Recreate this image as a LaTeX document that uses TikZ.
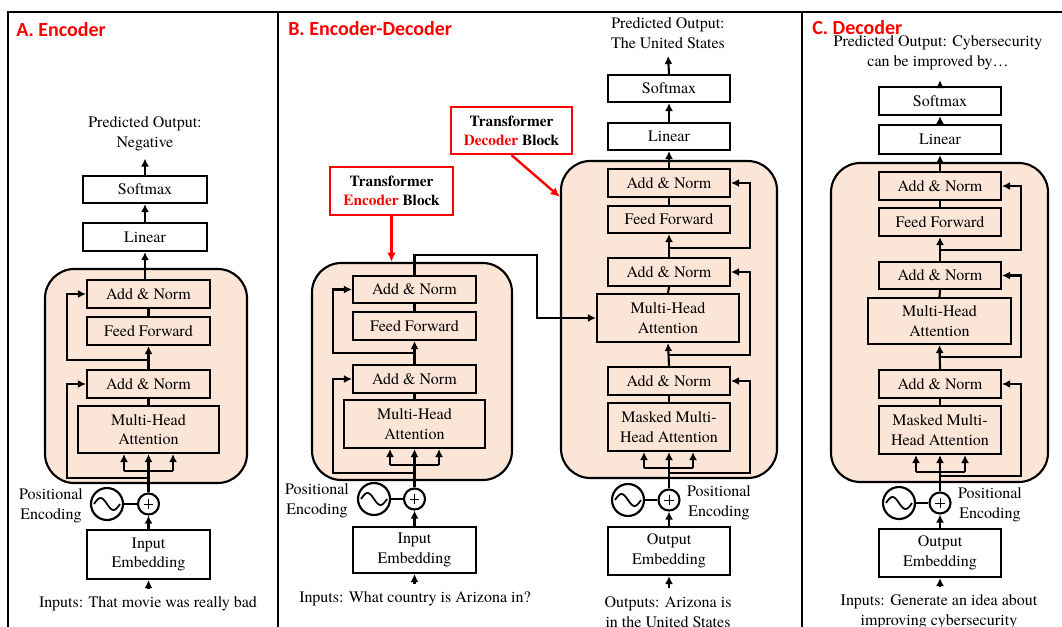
\documentclass[tikz,border=0pt]{standalone}
\usepackage{fontspec}
\newfontfamily\serif{texgyretermes-regular.otf}[BoldFont=texgyretermes-bold.otf]
\newfontfamily\titlefont{Carlito}
\usetikzlibrary{arrows.meta}
\definecolor{peach}{HTML}{FBE5D6}
\definecolor{tred}{HTML}{FF0000}
\newcommand\pbox[7]{\node[#2, minimum width={(#5-#3)*0.75pt}, minimum height={(#6-#4)*0.75pt}] (#1) at ({(#3+#5)/2},{(#4+#6)/2}) {#7};}
\newcommand\sinewave[2]{\draw[line width=1.3pt] plot[domain=-1:1,samples=40,smooth] ({#1+13*\x},{#2+6*sin(\x*180)});}
\newcommand\plussign[1]{\draw[line width=0.6pt] ([xshift=-3.5pt]#1.center) -- ([xshift=3.5pt]#1.center); \draw[line width=0.6pt] ([yshift=-3.5pt]#1.center) -- ([yshift=3.5pt]#1.center);}
\begin{document}
\begin{tikzpicture}[x=0.75pt,y=-0.75pt,
  box/.style={draw, line width=1.6pt, fill=peach, inner sep=0pt, align=center, font=\serif\fontsize{12}{14.6}\selectfont},
  wbox/.style={box, fill=white},
  blk/.style={draw, line width=1.6pt, fill=peach, rounded corners=22pt, inner sep=0pt},
  lbl/.style={align=center, font=\serif\fontsize{12}{14.6}\selectfont, inner sep=0pt},
  outtxt/.style={lbl, inner xsep=0pt, inner ysep=5.5pt},
  intxt/.style={lbl, inner xsep=0pt, inner ysep=6pt},
  ln/.style={line width=1.6pt},
  arr/.style={ln, -{Latex[length=6pt,width=6pt]}},
  redarr/.style={line width=1.8pt, draw=tred, -{Latex[length=7pt,width=6.5pt]}},
  redbox/.style={draw=tred, line width=1.6pt, fill=white, align=center, inner sep=0pt, font=\serif\bfseries\fontsize{11.5}{14.5}\selectfont},
  ttl/.style={anchor=base west, text=tred, font=\titlefont\bfseries\fontsize{15}{18}\selectfont, inner sep=0pt},
  sinc/.style={circle, draw, line width=1.6pt, minimum size=24pt, inner sep=0pt},
  plusc/.style={circle, draw, line width=1.6pt, minimum size=15.75pt, inner sep=0pt}
]
\useasboundingbox (0,0) rectangle (1062,627);
% frames
\coordinate (F_bl) at (8,627); \coordinate (F_tr) at (1062,12);
\draw[line width=1.6pt] (F_bl) |- (F_tr);
\coordinate (F_a) at (278,12); \coordinate (F_ab) at (278,627);
\coordinate (F_b) at (802,12); \coordinate (F_bb) at (802,627);
\draw[line width=1.6pt] (F_a) -- (F_ab);
\draw[line width=1.6pt] (F_b) -- (F_bb);

% ================= Panel A =================
\node[ttl] (A_t) at (16,37) {A. Encoder};
\pbox{A_blk}{blk}{45}{269}{247}{483}{}
\pbox{A_sm}{wbox}{83}{176}{207}{203}{Softmax}
\pbox{A_lin}{wbox}{83}{223}{207}{251}{Linear}
\pbox{A_an1}{box}{87}{280}{210}{308}{Add \& Norm}
\pbox{A_ff}{box}{87}{317}{210}{345}{Feed Forward}
\pbox{A_an2}{box}{87}{370}{210}{398}{Add \& Norm}
\pbox{A_mha}{box}{78}{406}{219}{453}{Multi-Head\\Attention}
\pbox{A_emb}{wbox}{87}{530}{210}{579}{Input\\Embedding}
\node[sinc] (A_sin) at (107,504) {};
\sinewave{107}{504}
\node[plusc] (A_plus) at (148.5,504) {};
\plussign{A_plus}
\node[outtxt] (A_out) at (145,134) {Predicted Output:\\Negative};
\node[intxt] (A_in) at (148,604) {Inputs: That movie was really bad};
\node[lbl] (A_pos) at (51,506) {Positional\\Encoding};
\draw[arr] (A_emb.south |- A_in.north) -- (A_emb.south);
\draw[arr] (A_emb.north) -- (A_plus.south);
\draw[ln] (A_sin.east) -- (A_plus.west);
\draw[arr] (A_plus.north) -- (A_mha.south);
\coordinate (A_bl) at (124,471); \coordinate (A_br) at (173,471);
\draw[ln] (A_bl) -- (A_br);
\draw[arr] (A_bl) -- (A_bl |- A_mha.south);
\draw[arr] (A_br) -- (A_br |- A_mha.south);
\draw[ln] (A_mha.north) -- (A_an2.south);
\draw[arr] (A_an2.north) -- (A_ff.south);
\draw[ln] (A_ff.north) -- (A_an1.south);
\draw[arr] (A_lin.south |- A_an1.north) -- (A_lin.south);
\draw[arr] (A_lin.north) -- (A_sm.south);
\draw[arr] (A_sm.north) -- (A_out.south);
\coordinate (A_r1) at (148.5,478); \coordinate (A_r1l) at (67,478);
\draw[arr] (A_r1) -- (A_r1l) |- (A_an2.west);
\coordinate (A_r2) at (148.5,360); \coordinate (A_r2l) at (67,360);
\draw[arr] (A_r2) -- (A_r2l) |- (A_an1.west);

% ================= Panel B : encoder =================
\node[ttl] (B_t) at (288,36) {B. Encoder-Decoder};
\pbox{B_blk}{blk}{312}{263}{512}{480}{}
\pbox{B_an1}{box}{353}{276}{476}{303}{Add \& Norm}
\pbox{B_ff}{box}{353}{312}{476}{340}{Feed Forward}
\pbox{B_an2}{box}{353}{365}{476}{393}{Add \& Norm}
\pbox{B_mha}{box}{344}{400}{485}{448}{Multi-Head\\Attention}
\pbox{B_emb}{wbox}{353}{527}{476}{573}{Input\\Embedding}
\node[sinc] (B_sin) at (374,499) {};
\sinewave{374}{499}
\node[plusc] (B_plus) at (414.5,499) {};
\plussign{B_plus}
\node[intxt] (B_in) at (415,599) {Inputs: What country is Arizona in?};
\node[lbl] (B_pos) at (317,501) {Positional\\Encoding};
\draw[arr] (B_emb.south |- B_in.north) -- (B_emb.south);
\draw[arr] (B_emb.north) -- (B_plus.south);
\draw[ln] (B_sin.east) -- (B_plus.west);
\draw[arr] (B_plus.north) -- (B_mha.south);
\coordinate (B_bl) at (390,465); \coordinate (B_br) at (439,465);
\draw[ln] (B_bl) -- (B_br);
\draw[arr] (B_bl) -- (B_bl |- B_mha.south);
\draw[arr] (B_br) -- (B_br |- B_mha.south);
\draw[ln] (B_mha.north) -- (B_an2.south);
\draw[arr] (B_an2.north) -- (B_ff.south);
\draw[ln] (B_ff.north) -- (B_an1.south);
\coordinate (B_r1) at (414.5,473); \coordinate (B_r1l) at (333,473);
\draw[arr] (B_r1) -- (B_r1l) |- (B_an2.west);
\coordinate (B_r2) at (414.5,353); \coordinate (B_r2l) at (333,353);
\draw[arr] (B_r2) -- (B_r2l) |- (B_an1.west);
\pbox{B_encl}{redbox}{330}{167}{453}{215}{Transformer\\\textcolor{tred}{Encoder} Block}
\draw[redarr] (B_encl.south) -- (B_encl.south |- B_blk.north);

% ================= Panel B : decoder =================
\pbox{D_blk}{blk}{561}{161}{777}{478}{}
\pbox{D_sm}{wbox}{608}{75}{730}{102}{Softmax}
\pbox{D_lin}{wbox}{608}{123}{730}{150}{Linear}
\pbox{D_an1}{box}{608}{169}{730}{197}{Add \& Norm}
\pbox{D_ff}{box}{608}{206}{730}{233}{Feed Forward}
\pbox{D_an2}{box}{608}{258}{730}{286}{Add \& Norm}
\pbox{D_mha}{box}{597}{294}{739}{342}{Multi-Head\\Attention}
\pbox{D_an3}{box}{608}{367}{730}{395}{Add \& Norm}
\pbox{D_mmha}{box}{608}{403}{730}{451}{Masked Multi-\\Head Attention}
\pbox{D_emb}{wbox}{608}{527}{730}{575}{Output\\Embedding}
\node[sinc] (D_sin) at (628,500) {};
\sinewave{628}{500}
\node[plusc] (D_plus) at (669,500) {};
\plussign{D_plus}
\node[outtxt] (D_out) at (668,33) {Predicted Output:\\The United States};
\node[intxt] (D_in) at (668,612) {Outputs: Arizona is\\in the United States};
\node[lbl] (D_pos) at (719,503) {Positional\\Encoding};
\draw[arr] (D_emb.south |- D_in.north) -- (D_emb.south);
\draw[arr] (D_emb.north) -- (D_plus.south);
\draw[ln] (D_sin.east) -- (D_plus.west);
\draw[arr] (D_plus.north) -- (D_mmha.south);
\coordinate (D_bl) at (644,468); \coordinate (D_br) at (693,468);
\draw[ln] (D_bl) -- (D_br);
\draw[arr] (D_bl) -- (D_bl |- D_mmha.south);
\draw[arr] (D_br) -- (D_br |- D_mmha.south);
\draw[ln] (D_mmha.north) -- (D_an3.south);
\draw[arr] (D_an3.north) -- (D_mha.south);
\draw[ln] (D_mha.north) -- (D_an2.south);
\draw[arr] (D_an2.north) -- (D_ff.south);
\draw[ln] (D_ff.north) -- (D_an1.south);
\draw[arr] (D_an1.north) -- (D_lin.south);
\draw[arr] (D_lin.north) -- (D_sm.south);
\draw[arr] (D_sm.north) -- (D_out.south);
\coordinate (D_r1) at (669,248); \coordinate (D_r1r) at (750,248);
\draw[arr] (D_r1) -- (D_r1r) |- (D_an1.east);
\coordinate (D_r2) at (669,355); \coordinate (D_r2r) at (750,355);
\draw[arr] (D_r2) -- (D_r2r) |- (D_an2.east);
\coordinate (D_r3) at (669,473); \coordinate (D_r3r) at (750,473);
\draw[arr] (D_r3) -- (D_r3r) |- (D_an3.east);
% encoder -> decoder
\coordinate (BD_c) at (537,255);
\draw[arr] (B_an1.north) |- (BD_c) |- (D_mha.west);
\pbox{D_decl}{redbox}{451}{107}{572}{154}{Transformer\\\textcolor{tred}{Decoder} Block}
\coordinate (D_tipy) at (0,197);
\draw[redarr] (D_decl.south) -- (D_blk.west |- D_tipy);

% ================= Panel C =================
\node[ttl] (C_t) at (812,35) {C. Decoder};
\pbox{C_blk}{blk}{831}{163}{1048}{482}{}
\pbox{C_sm}{wbox}{879}{87}{1001}{115}{Softmax}
\pbox{C_lin}{wbox}{879}{125}{1001}{154}{Linear}
\pbox{C_an1}{box}{879}{172}{1001}{200}{Add \& Norm}
\pbox{C_ff}{box}{879}{208}{1001}{236}{Feed Forward}
\pbox{C_an2}{box}{879}{262}{1001}{289}{Add \& Norm}
\pbox{C_mha}{box}{868}{298}{1011}{344}{Multi-Head\\Attention}
\pbox{C_an3}{box}{879}{370}{1001}{398}{Add \& Norm}
\pbox{C_mmha}{box}{879}{406}{1001}{454}{Masked Multi-\\Head Attention}
\pbox{C_emb}{wbox}{879}{529}{1001}{577}{Output\\Embedding}
\node[sinc] (C_sin) at (899,503) {};
\sinewave{899}{503}
\node[plusc] (C_plus) at (940,503) {};
\plussign{C_plus}
\node[outtxt, inner ysep=7.5pt] (C_out) at (938,53) {Predicted Output: Cybersecurity\\can be improved by…};
\node[intxt] (C_in) at (939,612) {Inputs: Generate an idea about\\improving cybersecurity};
\node[lbl] (C_pos) at (990,505) {Positional\\Encoding};
\draw[arr] (C_emb.south |- C_in.north) -- (C_emb.south);
\draw[arr] (C_emb.north) -- (C_plus.south);
\draw[ln] (C_sin.east) -- (C_plus.west);
\draw[arr] (C_plus.north) -- (C_mmha.south);
\coordinate (C_bl) at (916,472); \coordinate (C_br) at (965,472);
\draw[ln] (C_bl) -- (C_br);
\draw[arr] (C_bl) -- (C_bl |- C_mmha.south);
\draw[arr] (C_br) -- (C_br |- C_mmha.south);
\draw[ln] (C_mmha.north) -- (C_an3.south);
\draw[arr] (C_an3.north) -- (C_mha.south);
\draw[ln] (C_mha.north) -- (C_an2.south);
\draw[arr] (C_an2.north) -- (C_ff.south);
\draw[ln] (C_ff.north) -- (C_an1.south);
\draw[arr] (C_an1.north) -- (C_lin.south);
\draw[arr] (C_lin.north) -- (C_sm.south);
\draw[arr] (C_sm.north) -- (C_sm.north |- C_out.south);
\coordinate (C_r1) at (940,250); \coordinate (C_r1r) at (1021,250);
\draw[arr] (C_r1) -- (C_r1r) |- (C_an1.east);
\coordinate (C_r2) at (940,357); \coordinate (C_r2r) at (1021,357);
\draw[arr] (C_r2) -- (C_r2r) |- (C_an2.east);
\coordinate (C_r3) at (940,476); \coordinate (C_r3r) at (1021,476);
\draw[arr] (C_r3) -- (C_r3r) |- (C_an3.east);
\end{tikzpicture}
\end{document}
